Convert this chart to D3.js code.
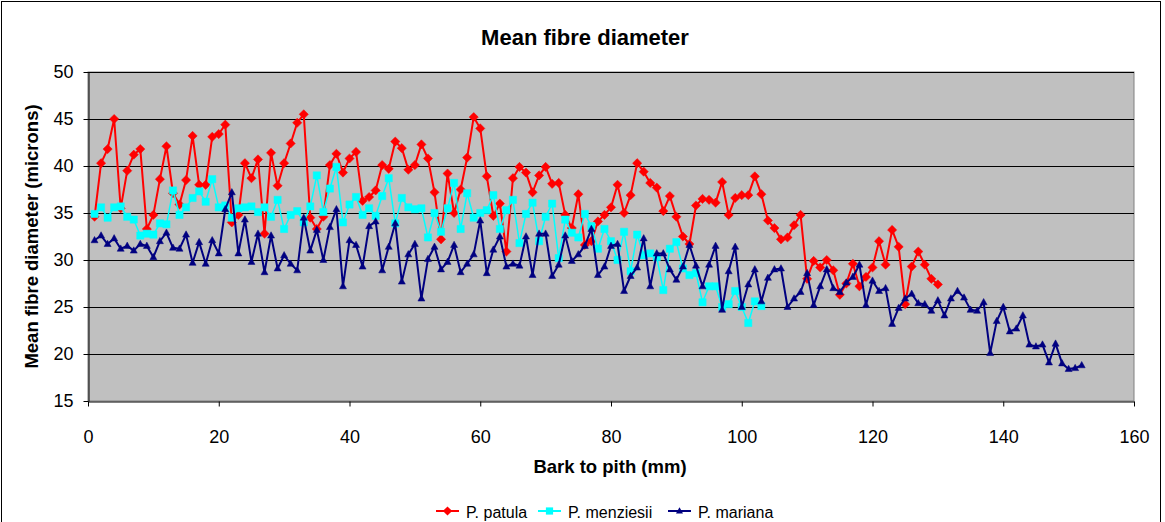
<!DOCTYPE html>
<html>
<head>
<meta charset="utf-8">
<script src="https://cdn.jsdelivr.net/npm/d3@7"></script>
<style>
  body { margin: 0; background: #fff; }
  text { font-family: Arial, "Liberation Sans", sans-serif; }
</style>
</head>
<body>
<svg></svg>
<script>
// mean fibre diameter (microns), one reading per mm from bark (x = 1, 2, 3 ...)
const patula = [
  34.6, 40.3, 41.8, 45.0, 35.5, 39.5, 41.2, 41.8, 33.3, 34.8,
  38.6, 42.1, 37.1, 35.9, 38.5, 43.2, 38.0, 38.0, 43.1, 43.4,
  44.4, 34.0, 34.8, 40.3, 38.7, 40.7, 32.8, 41.4, 37.9, 40.3,
  42.4, 44.6, 45.5, 34.5, 33.3, 34.6, 40.1, 41.3, 39.3, 40.8,
  41.5, 36.3, 36.7, 37.4, 40.1, 39.7, 42.6, 41.9, 39.6, 40.1,
  42.3, 40.8, 37.2, 32.2, 39.2, 35.0, 37.5, 40.9, 45.2, 44.0,
  38.9, 34.7, 36.0, 30.9, 38.7, 39.9, 39.3, 37.2, 39.0, 39.9,
  38.1, 38.2, 34.8, 33.4, 37.0, 31.6, 32.0, 34.1, 34.8, 35.6,
  38.0, 35.0, 36.9, 40.3, 39.4, 38.2, 37.7, 35.2, 36.8, 34.6,
  32.5, 31.7, 35.8, 36.5, 36.4, 36.1, 38.3, 34.8, 36.6, 36.9,
  36.9, 38.9, 37.0, 34.2, 33.4, 32.2, 32.4, 33.7, 34.8, 28.0,
  29.9, 29.2, 30.0, 28.9, 26.3, 27.5, 29.6, 27.2, 28.2, 29.2,
  32.0, 29.5, 33.2, 31.4, 25.3, 29.3, 30.9, 29.5, 28.0, 27.4
];

const menziesii = [
  34.9, 35.6, 34.5, 35.6, 35.7, 34.6, 34.3, 32.6, 32.8, 32.7,
  33.9, 33.8, 37.4, 34.8, 35.6, 36.6, 37.3, 36.2, 38.6, 35.6,
  35.8, 34.5, 35.5, 35.6, 35.7, 35.1, 35.6, 34.6, 36.4, 33.3,
  34.8, 35.2, 34.0, 35.7, 39.0, 35.1, 37.6, 39.9, 34.0, 35.9,
  36.7, 34.8, 35.5, 34.7, 36.8, 38.7, 33.9, 36.6, 35.6, 35.4,
  35.5, 32.4, 35.0, 33.0, 35.5, 38.2, 33.3, 37.1, 34.5, 35.0,
  35.3, 36.9, 33.3, 35.3, 36.4, 31.8, 34.9, 36.1, 32.0, 34.6,
  36.0, 30.2, 34.3, 32.9, 32.4, 34.9, 33.6, 31.2, 33.3, 32.0,
  30.0, 33.0, 28.8, 32.7, 30.5, 30.7, 30.3, 26.8, 31.2, 31.9,
  29.1, 28.4, 28.6, 25.5, 27.2, 27.2, 25.0, 25.3, 26.7, 25.0,
  23.3, 25.6, 25.1
];

const mariana = [
  32.1, 32.6, 31.7, 32.3, 31.2, 31.5, 31.0, 31.7, 31.5, 30.3,
  32.0, 32.9, 31.3, 31.2, 32.7, 29.7, 31.9, 29.6, 32.1, 30.7,
  35.4, 37.2, 30.7, 34.3, 29.8, 32.8, 28.7, 32.6, 29.1, 30.5,
  29.6, 28.9, 34.5, 31.0, 33.2, 30.0, 33.5, 35.4, 27.2, 32.1,
  31.6, 29.3, 33.6, 34.1, 28.9, 31.4, 33.9, 27.7, 30.6, 31.7,
  25.9, 30.1, 31.4, 29.0, 29.8, 31.6, 28.7, 29.6, 30.6, 34.2,
  28.6, 31.1, 32.5, 29.3, 29.6, 29.4, 32.5, 28.4, 32.8, 32.8,
  28.3, 29.5, 32.6, 29.9, 30.6, 31.5, 33.3, 28.4, 29.3, 31.5,
  31.7, 26.7, 28.3, 29.2, 32.3, 27.2, 30.7, 30.7, 29.0, 27.9,
  29.3, 31.6, 29.4, 27.2, 29.5, 31.5, 24.7, 28.8, 31.4, 25.0,
  27.4, 29.0, 25.6, 28.1, 29.0, 29.1, 25.0, 25.9, 26.6, 28.6,
  25.2, 27.2, 29.0, 27.0, 26.6, 27.6, 28.2, 29.5, 25.2, 27.8,
  26.7, 27.0, 23.2, 24.9, 25.9, 26.4, 25.4, 25.3, 24.6, 25.7,
  24.1, 25.9, 26.7, 26.0, 24.7, 24.6, 25.5, 20.1, 23.5, 25.0,
  22.4, 22.7, 24.1, 21.0, 20.8, 21.0, 19.1, 21.1, 19.0, 18.4,
  18.5, 18.8
];

const seriesNames = ['P. patula', 'P. menziesii', 'P. mariana'];
const xTicks = [0, 20, 40, 60, 80, 100, 120, 140, 160];
const yTicks = [15, 20, 25, 30, 35, 40, 45, 50];

const width = 1165;
const height = 522;
const plot = { left: 88, right: 1134, top: 72, bottom: 401 };

const svg = d3.select('svg')
  .attr('width', width)
  .attr('height', height);

// chart area frame
svg.append('rect')
  .attr('x', 1.5)
  .attr('y', 1.5)
  .attr('width', 1159)
  .attr('height', 540)
  .attr('fill', '#fff')
  .attr('stroke', '#000')
  .attr('stroke-width', 1);

const x = d3.scaleLinear().domain([0, 160]).range([plot.left, plot.right]);
const y = d3.scaleLinear().domain([15, 50]).range([plot.bottom, plot.top]);

// plot area
svg.append('rect')
  .attr('x', plot.left)
  .attr('y', plot.top)
  .attr('width', plot.right - plot.left)
  .attr('height', plot.bottom - plot.top)
  .attr('fill', '#c0c0c0')
  .attr('stroke', '#808080')
  .attr('stroke-width', 1);

// gridlines
svg.append('g')
  .selectAll('line')
  .data(yTicks.filter(d => d > 15))
  .join('line')
  .attr('x1', plot.left)
  .attr('x2', plot.right)
  .attr('y1', d => Math.round(y(d)) + 0.5)
  .attr('y2', d => Math.round(y(d)) + 0.5)
  .attr('stroke', '#000')
  .attr('stroke-width', 1);

// axes
const xAxis = svg.append('g')
  .attr('transform', `translate(0, ${Math.round(plot.bottom) + 0.5})`)
  .call(d3.axisBottom(x).tickValues(xTicks).tickSize(5).tickPadding(24).tickSizeOuter(0));

const yAxis = svg.append('g')
  .attr('transform', `translate(${plot.left + 0.5}, 0)`)
  .call(d3.axisLeft(y).tickValues(yTicks).tickSize(5).tickPadding(10).tickSizeOuter(0));

[xAxis, yAxis].forEach(g => {
  g.select('.domain').attr('stroke', '#000');
  g.selectAll('.tick line').attr('stroke', '#000');
  g.selectAll('.tick text')
    .attr('fill', '#000')
    .style('font-size', '18px')
    .style('font-family', 'Arial, "Liberation Sans", sans-serif');
});

// series
const series = [
  { name: seriesNames[0], values: patula, color: '#ff0000', width: 2, marker: 'M0,-4.6L4.6,0L0,4.6L-4.6,0Z' },
  { name: seriesNames[1], values: menziesii, color: '#00ffff', width: 1.5, marker: 'M-3.6,-3.6H3.6V3.6H-3.6Z' },
  { name: seriesNames[2], values: mariana, color: '#000080', width: 2, marker: 'M0,-3.8L3.5,2.5L-3.5,2.5Z' }
];

const line = d3.line()
  .x((d, i) => x(i + 1))
  .y(d => y(d));

series.forEach(s => {
  const g = svg.append('g');
  g.append('path')
    .datum(s.values)
    .attr('d', line)
    .attr('fill', 'none')
    .attr('stroke', s.color)
    .attr('stroke-width', s.width)
    .attr('stroke-linejoin', 'round');
  g.selectAll('path.marker')
    .data(s.values)
    .join('path')
    .attr('class', 'marker')
    .attr('d', s.marker)
    .attr('transform', (d, i) => `translate(${x(i + 1)}, ${y(d)})`)
    .attr('fill', s.color)
    .attr('stroke', s.color)
    .attr('stroke-width', 0.5);
});

// titles
svg.append('text')
  .attr('x', 585)
  .attr('y', 45)
  .attr('text-anchor', 'middle')
  .style('font-size', '22px')
  .style('font-weight', 'bold')
  .text('Mean fibre diameter');

svg.append('text')
  .attr('x', 610)
  .attr('y', 473)
  .attr('text-anchor', 'middle')
  .style('font-size', '18.5px')
  .style('font-weight', 'bold')
  .text('Bark to pith (mm)');

svg.append('text')
  .attr('transform', `translate(38, ${(plot.top + plot.bottom) / 2}) rotate(-90)`)
  .attr('text-anchor', 'middle')
  .style('font-size', '18.5px')
  .style('font-weight', 'bold')
  .text('Mean fibre diameter (microns)');

// legend
const legendX = [436, 538, 668];
const legend = svg.append('g');
series.forEach((s, i) => {
  const lg = legend.append('g').attr('transform', `translate(${legendX[i]}, 511)`);
  lg.append('line')
    .attr('x1', 0).attr('x2', 23)
    .attr('stroke', s.color)
    .attr('stroke-width', 2);
  lg.append('path')
    .attr('d', s.marker)
    .attr('transform', 'translate(11.5, 0)')
    .attr('fill', s.color);
  lg.append('text')
    .attr('x', 30)
    .attr('y', 7)
    .style('font-size', '16px')
    .text(s.name);
});
</script>
</body>
</html>
